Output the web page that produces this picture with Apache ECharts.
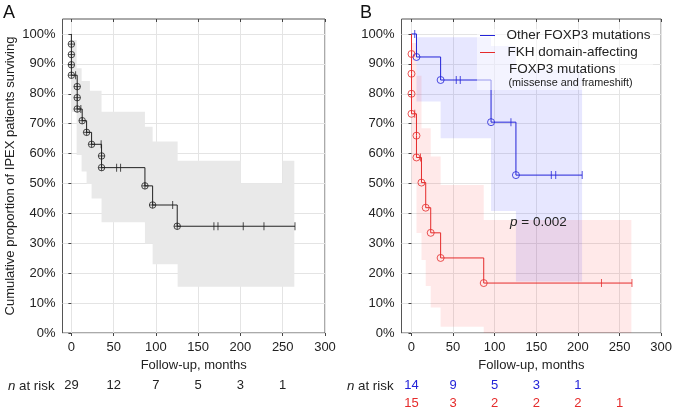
<!DOCTYPE html>
<html><head><meta charset="utf-8">
<script src="https://cdn.jsdelivr.net/npm/echarts@6/dist/echarts.min.js"></script>
<style>html,body{margin:0;padding:0;background:#fff}#c{width:675px;height:411px}</style>
</head><body><div id="c"></div>
<script>
// ---------- data ----------
const xTicks = [0, 50, 100, 150, 200, 250, 300];
const yTicks = [0, 10, 20, 30, 40, 50, 60, 70, 80, 90, 100];
const riskTicks = [0, 50, 100, 150, 200, 250];
const riskA = [29, 12, 7, 5, 3, 1];
const riskOther = [14, 9, 5, 3, 1];
const riskFKH = [15, 3, 2, 2, 2, 1];

// Panel A: all patients
const eventsA = [[0, 96.6], [0, 93.1], [0, 89.7], [0, 86.2], [6.9, 82.4], [6.9, 78.7], [6.9, 74.9],
  [12.8, 71.0], [18.0, 67.1], [23.9, 63.1], [35.7, 59.2], [35.7, 55.3], [87.0, 49.2], [96.1, 42.8], [125.2, 35.7]];
const endA = 264.5;
const censA = [[5.0, 86.2], [11.2, 74.9], [35.2, 63.1], [53.5, 55.3], [58.2, 55.3], [119.8, 42.8],
  [168.6, 35.7], [173.4, 35.7], [203.3, 35.7], [227.8, 35.7], [264.5, 35.7]];
const bandUpperA = [[0, 98], [6.2, 88.5], [12.1, 84.3], [21.9, 81], [35.7, 74], [87, 69], [96.1, 64], [125.7, 57.6], [200.2, 50], [250, 57.6]];
const bandLowerA = [[0, 74], [6.2, 59.5], [12.1, 54], [18, 49.8], [23.9, 45], [35.7, 37], [87, 30], [96.1, 23], [125.7, 15.5]];
const bandEndA = 263.7;

// Panel B: other FOXP3 mutations (blue)
const eventsOther = [[6.0, 92.3], [35.0, 84.6], [95.6, 70.5], [125.5, 52.8]];
const endOther = 205.1;
const censOther = [[3.9, 100], [53.8, 84.6], [58.6, 84.6], [119.5, 70.5], [168.0, 52.8], [173.3, 52.8], [205.1, 52.8]];
const bandUpperOther = [[6.0, 98.9], [95.6, 96], [125.5, 88]];
const bandLowerOther = [[6.0, 77.4], [35.0, 65.1], [95.6, 40.8], [125.5, 17.2]];
const bandEndOther = 205;

// Panel B: FKH domain-affecting (red)
const eventsFKH = [[0, 93.3], [0, 86.7], [0, 80.0], [0, 73.3], [6.0, 66.0], [6.0, 58.7], [12.0, 50.3],
  [17.1, 41.9], [23.1, 33.5], [35.0, 25.1], [86.8, 16.7]];
const endFKH = 264.9;
const censFKH = [[3.9, 73.3], [10.8, 58.7], [228.3, 16.7], [264.9, 16.7]];
const bandUpperFKH = [[0, 97], [6.0, 86], [12.0, 68.5], [23.1, 59], [35.0, 49.5], [86.8, 37.8]];
const bandLowerFKH = [[0, 50], [6.0, 33.4], [12.0, 24.4], [17.1, 15.7], [23.1, 8.5], [35.0, 2.1], [86.8, 0]];
const bandEndFKH = 264.2;

// ---------- styles ----------
const FONT = "'Liberation Sans', Arial, sans-serif";
const BLACK = '#222222', BLUE = '#2323d8', RED = '#e52b2b';
const GRID_LINE = '#e4e4e4';

function kmLine(events, end, color, xi, yi) {
  const d = [[0, 100]].concat(events);
  d.push([end, events[events.length - 1][1]]);
  return { type: 'line', xAxisIndex: xi, yAxisIndex: yi, data: d, step: 'end', showSymbol: false,
    lineStyle: { color: color, width: 1 }, z: 3, silent: true, animation: false };
}
function band(upper, lower, end, fill, xi, yi) {
  return { type: 'custom', xAxisIndex: xi, yAxisIndex: yi, silent: true, z: 1, animation: false,
    data: [[upper[0][0], upper[0][1]]],
    renderItem: function (params, api) {
      const pts = [];
      for (let i = 0; i < upper.length; i++) {
        const t1 = i + 1 < upper.length ? upper[i + 1][0] : end;
        pts.push(api.coord([upper[i][0], upper[i][1]]));
        pts.push(api.coord([t1, upper[i][1]]));
      }
      for (let i = lower.length - 1; i >= 0; i--) {
        const t1 = i + 1 < lower.length ? lower[i + 1][0] : end;
        pts.push(api.coord([t1, lower[i][1]]));
        pts.push(api.coord([lower[i][0], lower[i][1]]));
      }
      return { type: 'polygon', shape: { points: pts }, style: { fill: fill } };
    } };
}
function eventMarks(events, symbol, color, xi, yi, size) {
  return { type: 'scatter', xAxisIndex: xi, yAxisIndex: yi, data: events, symbol: symbol, symbolSize: size,
    itemStyle: { color: 'rgba(0,0,0,0)', borderColor: color, borderWidth: 1 }, z: 4, silent: true, animation: false };
}
function censorMarks(cens, color, xi, yi) {
  return { type: 'scatter', xAxisIndex: xi, yAxisIndex: yi, data: cens, symbol: 'rect', symbolSize: [1, 8],
    itemStyle: { color: color }, z: 4, silent: true, animation: false };
}
const CROSS_CIRCLE = 'path://M5,0A5,5,0,1,1,5,10A5,5,0,1,1,5,0ZM0,5L10,5M5,0L5,10';

function mainX(grid, min) {
  return { type: 'value', gridIndex: grid, min: min, max: 300, position: 'bottom',
    axisLine: { show: false },
    axisTick: { show: true, customValues: xTicks, length: 3, lineStyle: { color: '#444' } },
    axisLabel: { customValues: xTicks, fontSize: 13, color: BLACK, margin: 8, fontFamily: FONT },
    splitLine: { show: true, lineStyle: { color: GRID_LINE, width: 1 } },
    name: 'Follow-up, months', nameLocation: 'middle', nameGap: 25,
    nameTextStyle: { fontSize: 13, color: BLACK, fontFamily: FONT } };
}
function topX(grid, min) {
  return { type: 'value', gridIndex: grid, min: min, max: 300, position: 'top',
    axisLine: { show: false },
    axisTick: { show: true, inside: true, customValues: xTicks, length: 3, lineStyle: { color: '#444' } },
    axisLabel: { show: false }, splitLine: { show: false } };
}
function riskX(grid, min, counts, color, offset) {
  return { type: 'value', gridIndex: grid, min: min, max: 300, position: 'bottom', offset: offset,
    axisLine: { show: false }, axisTick: { show: false }, splitLine: { show: false },
    axisLabel: { customValues: riskTicks, fontSize: 13, color: color, margin: 8, fontFamily: FONT,
      formatter: function (v) { const i = riskTicks.indexOf(v); return i >= 0 && i < counts.length ? String(counts[i]) : ''; } } };
}
function yAx(grid, withName) {
  const a = { type: 'value', gridIndex: grid, min: 0, max: 105,
    axisLine: { show: false },
    axisTick: { show: true, customValues: yTicks, length: 3, lineStyle: { color: '#444' } },
    axisLabel: { customValues: yTicks, formatter: '{value}%', fontSize: 13, color: BLACK, margin: 7, fontFamily: FONT },
    splitLine: { show: true, lineStyle: { color: GRID_LINE, width: 1 } } };
  if (withName) {
    a.name = 'Cumulative proportion of IPEX patients surviving';
    a.nameLocation = 'middle'; a.nameGap = 46;
    a.nameTextStyle = { fontSize: 13, color: BLACK, fontFamily: FONT };
  }
  return a;
}

const chart = echarts.init(document.getElementById('c'), null, { renderer: 'canvas' });
chart.setOption({
  animation: false,
  backgroundColor: '#fff',
  textStyle: { fontFamily: FONT },
  grid: [
    { left: 62.5, top: 19, width: 262.5, height: 314, show: true, borderColor: '#555', borderWidth: 1, backgroundColor: 'transparent' },
    { left: 401.5, top: 19, width: 261, height: 314, show: true, borderColor: '#555', borderWidth: 1, backgroundColor: 'transparent' }
  ],
  xAxis: [
    mainX(0, -10.5), topX(0, -10.5), riskX(0, -10.5, riskA, BLACK, 38),
    mainX(1, -12), topX(1, -12), riskX(1, -12, riskOther, BLUE, 38), riskX(1, -12, riskFKH, RED, 56)
  ],
  yAxis: [yAx(0, true), yAx(1, false)],
  series: [
    band(bandUpperA, bandLowerA, bandEndA, '#e9e9e9', 0, 0),
    kmLine(eventsA, endA, BLACK, 0, 0),
    eventMarks(eventsA, CROSS_CIRCLE, BLACK, 0, 0, 6.5),
    censorMarks(censA, BLACK, 0, 0),

    band(bandUpperOther, bandLowerOther, bandEndOther, 'rgba(40,40,255,0.11)', 3, 1),
    band(bandUpperFKH, bandLowerFKH, bandEndFKH, 'rgba(255,40,40,0.10)', 3, 1),
    kmLine(eventsOther, endOther, BLUE, 3, 1),
    kmLine(eventsFKH, endFKH, RED, 3, 1),
    eventMarks(eventsOther, 'circle', BLUE, 3, 1, 7),
    eventMarks(eventsFKH, 'circle', RED, 3, 1, 7),
    censorMarks(censOther, BLUE, 3, 1),
    censorMarks(censFKH, RED, 3, 1)
  ],
  graphic: [
    { type: 'text', left: 3, top: 4, style: { text: 'A', fontSize: 18, fill: '#111', fontFamily: FONT } },
    { type: 'text', left: 360, top: 4, style: { text: 'B', fontSize: 18, fill: '#111', fontFamily: FONT } },
    // legend
    { type: 'rect', shape: { x: 477, y: 29, width: 176, height: 61 }, style: { fill: 'rgba(255,255,255,0.55)' }, z: 10 },
    { type: 'line', shape: { x1: 480, y1: 35.5, x2: 495, y2: 35.5 }, style: { stroke: BLUE, lineWidth: 1 }, z: 11 },
    { type: 'text', x: 506.5, y: 35.5, style: { text: 'Other FOXP3 mutations', fontSize: 13.5, fill: BLACK, fontFamily: FONT, verticalAlign: 'middle' }, z: 11 },
    { type: 'line', shape: { x1: 480, y1: 52.5, x2: 495, y2: 52.5 }, style: { stroke: RED, lineWidth: 1 }, z: 11 },
    { type: 'text', x: 507.5, y: 52.5, style: { text: 'FKH domain-affecting', fontSize: 13.5, fill: BLACK, fontFamily: FONT, verticalAlign: 'middle' }, z: 11 },
    { type: 'text', x: 509, y: 69.5, style: { text: 'FOXP3 mutations', fontSize: 13.5, fill: BLACK, fontFamily: FONT, verticalAlign: 'middle' }, z: 11 },
    { type: 'text', x: 508.5, y: 83, style: { text: '(missense and frameshift)', fontSize: 10.8, fill: BLACK, fontFamily: FONT, verticalAlign: 'middle' }, z: 11 },
    // p value
    { type: 'text', x: 510, y: 222, z: 11, style: { text: '{i|p} = 0.002', fontSize: 13.5, fill: BLACK, fontFamily: FONT, verticalAlign: 'middle',
      rich: { i: { fontStyle: 'italic', fontSize: 13.5, fontFamily: FONT, fill: BLACK } } } },
    // n at risk labels
    { type: 'text', x: 8, y: 386, style: { text: '{i|n} at risk', fontSize: 13.3, fill: BLACK, fontFamily: FONT, verticalAlign: 'middle',
      rich: { i: { fontStyle: 'italic', fontSize: 13.3, fontFamily: FONT, fill: BLACK } } } },
    { type: 'text', x: 347, y: 386, style: { text: '{i|n} at risk', fontSize: 13.3, fill: BLACK, fontFamily: FONT, verticalAlign: 'middle',
      rich: { i: { fontStyle: 'italic', fontSize: 13.3, fontFamily: FONT, fill: BLACK } } } }
  ]
});
</script></body></html>
